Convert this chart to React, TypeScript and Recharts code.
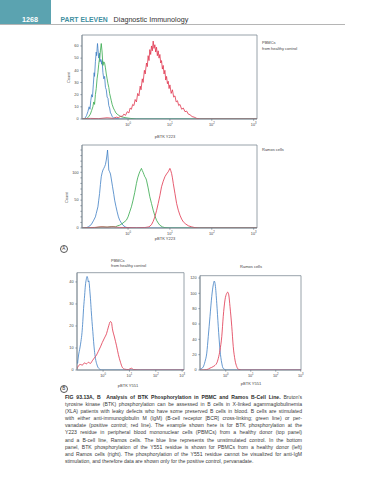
import React from 'react';
import { LineChart, Line, XAxis, YAxis, ReferenceArea } from 'recharts';

// x values are log10 of pBTK intensity, y values are cell counts
const X_TICKS = [0, 1, 2, 3];

const y223PbmcBlue: [number, number][] = [
  [-1.1, 0], [-1.06, 0], [-1.02, 1], [-0.99, 3], [-0.96, 6], [-0.93, 10], [-0.91, 8], [-0.89, 15],
  [-0.87, 20], [-0.85, 18], [-0.83, 28], [-0.81, 38], [-0.8, 35], [-0.78, 47], [-0.76, 55],
  [-0.75, 52], [-0.73, 62], [-0.72, 58], [-0.7, 50], [-0.68, 54], [-0.67, 47], [-0.65, 49],
  [-0.63, 45], [-0.62, 48], [-0.6, 38], [-0.58, 33], [-0.56, 35], [-0.54, 26], [-0.52, 24],
  [-0.5, 18], [-0.48, 17], [-0.46, 11], [-0.44, 9], [-0.42, 5], [-0.4, 4], [-0.38, 2],
  [-0.35, 1], [-0.3, 0.5], [-0.2, 0], [3.08, 0],
];
const y223PbmcGreen: [number, number][] = [
  [-1.1, 0], [-0.98, 0.5], [-0.94, 2], [-0.9, 4], [-0.87, 7], [-0.84, 10], [-0.82, 14], [-0.8, 12],
  [-0.78, 20], [-0.76, 25], [-0.74, 33], [-0.72, 38], [-0.7, 45], [-0.68, 50], [-0.66, 56],
  [-0.64, 62], [-0.62, 55], [-0.6, 44], [-0.58, 47], [-0.56, 46], [-0.54, 42], [-0.52, 37],
  [-0.5, 33], [-0.48, 29], [-0.46, 26], [-0.44, 21], [-0.42, 18], [-0.4, 15], [-0.38, 12],
  [-0.35, 9], [-0.32, 7], [-0.29, 5], [-0.26, 4], [-0.22, 3], [-0.18, 2], [-0.12, 1.5],
  [-0.05, 1], [0.05, 0.5], [0.2, 0], [3.08, 0],
];
const y223PbmcRed: [number, number][] = [
  [-1.1, 0], [-0.9, 0.5], [-0.7, 0.3], [-0.5, 1], [-0.35, 0.5], [-0.28, 1.5], [-0.22, 1],
  [-0.18, 2.5], [-0.14, 2], [-0.1, 4], [-0.06, 3], [-0.02, 6], [0.02, 5], [0.05, 9], [0.08, 8],
  [0.11, 12], [0.14, 11], [0.17, 16], [0.2, 14], [0.23, 21], [0.26, 19], [0.29, 27], [0.31, 24],
  [0.34, 33], [0.36, 30], [0.39, 40], [0.41, 37], [0.44, 46], [0.46, 43], [0.48, 52], [0.5, 48],
  [0.52, 57], [0.54, 53], [0.56, 60], [0.58, 56], [0.6, 64], [0.62, 58], [0.64, 61], [0.66, 55],
  [0.68, 59], [0.7, 52], [0.72, 56], [0.74, 50], [0.76, 53], [0.78, 46], [0.8, 48], [0.82, 41],
  [0.84, 44], [0.86, 37], [0.88, 40], [0.9, 32], [0.92, 35], [0.94, 29], [0.96, 31], [0.98, 25],
  [1.0, 28], [1.03, 21], [1.06, 24], [1.09, 18], [1.12, 19], [1.15, 14], [1.18, 15], [1.21, 11],
  [1.24, 12], [1.28, 8], [1.32, 9], [1.36, 6], [1.4, 6.5], [1.44, 4], [1.48, 3.5], [1.53, 2],
  [1.58, 1.5], [1.64, 0.5], [1.72, 0], [3.08, 0],
];

const y223RamosBlue: [number, number][] = [
  [-1.1, 0], [-1.0, 0.5], [-0.95, 2], [-0.88, 6], [-0.82, 14], [-0.78, 20], [-0.76, 26], [-0.72, 38],
  [-0.7, 50], [-0.68, 62], [-0.66, 78], [-0.64, 92], [-0.62, 99], [-0.6, 104], [-0.58, 107],
  [-0.56, 110], [-0.54, 114], [-0.52, 122], [-0.5, 133], [-0.49, 140], [-0.475, 124], [-0.46, 104],
  [-0.44, 101], [-0.42, 97], [-0.4, 88], [-0.37, 74], [-0.34, 60], [-0.32, 50], [-0.29, 39],
  [-0.26, 29], [-0.23, 20], [-0.2, 14], [-0.16, 9], [-0.12, 5], [-0.07, 2], [-0.02, 0.6],
  [0.1, 0], [3.08, 0],
];
const y223RamosGreen: [number, number][] = [
  [-1.1, 0], [-0.8, 0.5], [-0.7, 1.5], [-0.6, 2], [-0.5, 1.5], [-0.4, 2.5], [-0.3, 2], [-0.25, 4],
  [-0.2, 5], [-0.12, 9], [-0.04, 14], [0.0, 20], [0.04, 29], [0.08, 38], [0.12, 50], [0.16, 64],
  [0.2, 80], [0.23, 90], [0.26, 97], [0.28, 101], [0.3, 104], [0.32, 107], [0.34, 103], [0.36, 100],
  [0.38, 96], [0.4, 92], [0.42, 90], [0.44, 86], [0.48, 72], [0.52, 56], [0.56, 44], [0.6, 32],
  [0.64, 22], [0.68, 14], [0.72, 9], [0.76, 5], [0.82, 2], [0.88, 0.6], [1.0, 0], [3.08, 0],
];
const y223RamosRed: [number, number][] = [
  [-1.1, 0], [-0.8, 1], [-0.65, 2], [-0.5, 1.5], [-0.35, 2], [-0.2, 1], [0, 0.8], [0.2, 0.5],
  [0.4, 0.8], [0.5, 2], [0.56, 6], [0.6, 12], [0.64, 20], [0.68, 31], [0.72, 44], [0.76, 58],
  [0.8, 74], [0.84, 84], [0.88, 92], [0.92, 97], [0.96, 101], [0.98, 104], [1.0, 107], [1.02, 103],
  [1.04, 98], [1.06, 90], [1.08, 80], [1.12, 62], [1.16, 44], [1.2, 32], [1.24, 23], [1.28, 16],
  [1.32, 11], [1.38, 7], [1.44, 4], [1.52, 2], [1.6, 0.6], [1.7, 0], [3.08, 0],
];

const y551PbmcBlue: [number, number][] = [
  [-0.99, 4.5], [-0.97, 3], [-0.95, 5], [-0.93, 6.8], [-0.88, 10], [-0.84, 13], [-0.8, 17],
  [-0.77, 22], [-0.74, 28], [-0.7, 34], [-0.67, 38.6], [-0.64, 41], [-0.61, 42.5], [-0.58, 41.5],
  [-0.56, 40], [-0.54, 40.5], [-0.52, 38.6], [-0.5, 35.5], [-0.48, 32.6], [-0.45, 27], [-0.42, 22],
  [-0.39, 17.5], [-0.36, 12.9], [-0.33, 9], [-0.29, 5.3], [-0.23, 2.3], [-0.17, 0.8], [-0.04, 0],
  [3.07, 0],
];
const y551PbmcRed: [number, number][] = [
  [-0.99, 0.5], [-0.94, 1.8], [-0.86, 2.5], [-0.79, 2.2], [-0.71, 3.2], [-0.63, 2.8], [-0.56, 3.5],
  [-0.48, 3], [-0.41, 4.2], [-0.33, 5.5], [-0.25, 6.8], [-0.18, 8.5], [-0.1, 10.5], [-0.03, 12.5],
  [0.05, 14.5], [0.13, 16.5], [0.2, 19.5], [0.28, 22], [0.32, 21.5], [0.35, 19], [0.43, 15],
  [0.51, 11], [0.58, 7], [0.66, 3.5], [0.73, 1.2], [0.81, 0.4], [0.96, 0.2], [1.08, 0.8],
  [1.15, 0.2], [1.42, 0], [3.07, 0],
];

const y551RamosBlue: [number, number][] = [
  [-1.03, 1], [-0.96, 2], [-0.9, 4], [-0.83, 11], [-0.76, 22], [-0.7, 43.5], [-0.63, 70],
  [-0.56, 96], [-0.5, 111], [-0.46, 116], [-0.42, 111], [-0.36, 87], [-0.3, 57], [-0.23, 26],
  [-0.16, 9], [-0.1, 2], [0.04, 0], [3.01, 0],
];
const y551RamosRed: [number, number][] = [
  [-1.03, 0], [-0.76, 0.5], [-0.63, 2.5], [-0.5, 4.5], [-0.36, 9], [-0.3, 15], [-0.23, 26],
  [-0.16, 43.5], [-0.1, 70], [-0.03, 91.5], [0.04, 100], [0.08, 101.5], [0.12, 98], [0.17, 82.7],
  [0.24, 57], [0.3, 30.5], [0.37, 13], [0.44, 4.4], [0.5, 1], [0.64, 0], [3.01, 0],
];

const CAPTION_LINES = [
  "tyrosine kinase (BTK) phosphorylation can be assessed in B cells in X-linked agammaglobulinemia",
  '(XLA) patients with leaky defects who have some preserved B cells in blood. B cells are stimulated',
  'with either anti-immunoglobulin M (IgM) (B-cell receptor [BCR] cross-linking; green line) or per-',
  'vanadate (positive control; red line). The example shown here is for BTK phosphorylation at the',
  'Y223 residue in peripheral blood mononuclear cells (PBMCs) from a healthy donor (top panel)',
  'and a B-cell line, Ramos cells. The blue line represents the unstimulated control. In the bottom',
  'panel, BTK phosphorylation of the Y551 residue is shown for PBMCs from a healthy donor (left)',
  'and Ramos cells (right). The phosphorylation of the Y551 residue cannot be visualized for anti-IgM',
];
const CAPTION_LAST = 'stimulation, and therefore data are shown only for the positive control, pervanadate.';

const BLUE = '#3f7fc4';
const GREEN = '#33a84a';
const RED = '#e0334c';
const FRAME = '#7d8a96';
const TXT = '#444';
const FONT = '"Liberation Sans", Arial, sans-serif';

const pts = (arr: [number, number][]) => arr.map(([x, y]) => ({ x, y }));

function PowTick(props: any) {
  const { x, y, payload } = props;
  return (
    <text x={x} y={y + 3.4} textAnchor="middle" fontSize={3.8} fill={TXT} fontFamily={FONT}>
      10
      <tspan dy={-1.6} fontSize={2.7}>
        {payload.value}
      </tspan>
    </text>
  );
}

interface Series {
  data: [number, number][];
  color: string;
}

interface HistProps {
  left: number;
  top: number;
  width: number;
  height: number;
  margin: { top: number; right: number; left: number; bottom: number };
  yWidth: number;
  xHeight: number;
  xDomain: [number, number];
  yMax: number;
  yTicks: number[];
  yLabelEvery?: number;
  smooth?: boolean;
  series: Series[];
}

function Histogram(p: HistProps) {
  const YTick = (props: any) => {
    const { x, y, payload } = props;
    if (p.yLabelEvery && payload.value % p.yLabelEvery !== 0) return null;
    return (
      <text x={x} y={y + 1.3} textAnchor="end" fontSize={3.8} fill={TXT} fontFamily={FONT}>
        {payload.value}
      </text>
    );
  };
  return (
    <div style={{ position: 'absolute', left: p.left, top: p.top }}>
      <LineChart width={p.width} height={p.height} margin={p.margin}>
        <XAxis
          dataKey="x"
          type="number"
          domain={p.xDomain}
          allowDataOverflow
          ticks={X_TICKS}
          tick={<PowTick />}
          tickSize={1.5}
          height={p.xHeight}
          stroke={FRAME}
          axisLine={{ stroke: FRAME, strokeWidth: 0.8 }}
          interval={0}
        />
        <YAxis
          type="number"
          domain={[0, p.yMax]}
          allowDataOverflow
          ticks={p.yTicks}
          tick={<YTick />}
          tickSize={1.5}
          width={p.yWidth}
          stroke={FRAME}
          axisLine={{ stroke: FRAME, strokeWidth: 0.8 }}
          interval={0}
        />
        <ReferenceArea
          x1={p.xDomain[0]}
          x2={p.xDomain[1]}
          y1={0}
          y2={p.yMax}
          fill="none"
          stroke={FRAME}
          strokeWidth={0.8}
          ifOverflow="visible"
        />
        {p.series.map((s, i) => (
          <Line
            key={i}
            data={pts(s.data)}
            dataKey="y"
            type={p.smooth ? 'monotone' : 'linear'}
            stroke={s.color}
            strokeWidth={0.8}
            dot={false}
            activeDot={false}
            isAnimationActive={false}
          />
        ))}
      </LineChart>
    </div>
  );
}

const small: React.CSSProperties = {
  position: 'absolute',
  fontSize: 4,
  lineHeight: '5px',
  color: TXT,
  whiteSpace: 'nowrap',
};

function Circled({ left, top, letter }: { left: number; top: number; letter: string }) {
  return (
    <div
      style={{
        position: 'absolute',
        left,
        top,
        width: 6.5,
        height: 6.5,
        border: '0.6px solid #555',
        borderRadius: '50%',
        fontSize: 4.5,
        lineHeight: '6.5px',
        textAlign: 'center',
        color: '#333',
      }}
    >
      {letter}
    </div>
  );
}

export default function App() {
  return (
    <div
      style={{
        position: 'absolute',
        left: 0,
        top: 0,
        width: 374,
        height: 480,
        background: '#fff',
        overflow: 'hidden',
        fontFamily: FONT,
      }}
    >
      {/* page header */}
      <div style={{ position: 'absolute', left: 0, top: 0, width: 51, height: 24, background: '#5ba3b0' }} />
      <div style={{ position: 'absolute', left: 0, top: 24, width: 345, height: 0.7, background: '#b5b5b5' }} />
      <div style={{ position: 'absolute', left: 22, top: 16, fontSize: 7.2, lineHeight: '7px', fontWeight: 700, color: '#fff' }}>
        1268
      </div>
      <div style={{ position: 'absolute', left: 60.5, top: 16.2, fontSize: 6.8, lineHeight: '7px', whiteSpace: 'nowrap' }}>
        <span style={{ fontWeight: 700, color: '#3f8f9f' }}>PART ELEVEN</span>
        <span style={{ color: '#333', fontSize: 7.2, marginLeft: 6 }}>Diagnostic Immunology</span>
      </div>

      {/* A: top panel, PBMCs Y223 */}
      <Histogram
        left={50}
        top={30}
        width={217}
        height={106}
        margin={{ top: 5, right: 10, left: 0, bottom: 0 }}
        yWidth={32}
        xHeight={17}
        xDomain={[-1.1, 3.08]}
        yMax={69}
        yTicks={[0, 10, 20, 30, 40, 50, 60]}
        series={[
          { data: y223PbmcBlue, color: BLUE },
          { data: y223PbmcGreen, color: GREEN },
          { data: y223PbmcRed, color: RED },
        ]}
      />
      <div style={{ ...small, left: 262, top: 40 }}>PBMCs</div>
      <div style={{ ...small, left: 262, top: 46 }}>from healthy control</div>
      <div style={{ ...small, left: 66, top: 83, transform: 'rotate(-90deg)', transformOrigin: '0 0' }}>Count</div>
      <div style={{ ...small, left: 165, top: 134, transform: 'translateX(-50%)' }}>pBTK Y223</div>

      {/* A: bottom panel, Ramos Y223 */}
      <Histogram
        left={50}
        top={140}
        width={217}
        height={105}
        margin={{ top: 5, right: 10, left: 0, bottom: 0 }}
        yWidth={32}
        xHeight={17}
        xDomain={[-1.1, 3.08]}
        yMax={149}
        yTicks={[0, 10, 20, 30, 40, 50, 60, 70, 80, 90, 100, 110, 120, 130, 140]}
        yLabelEvery={50}
        series={[
          { data: y223RamosBlue, color: BLUE },
          { data: y223RamosGreen, color: GREEN },
          { data: y223RamosRed, color: RED },
        ]}
      />
      <div style={{ ...small, left: 262, top: 147 }}>Ramos cells</div>
      <div style={{ ...small, left: 64, top: 203, transform: 'rotate(-90deg)', transformOrigin: '0 0' }}>Count</div>
      <div style={{ ...small, left: 165, top: 236, transform: 'translateX(-50%)' }}>pBTK Y223</div>
      <Circled left={59.5} top={244.5} letter="A" />

      {/* B: PBMCs Y551 */}
      <div style={{ ...small, left: 111, top: 257.5 }}>PBMCs</div>
      <div style={{ ...small, left: 111, top: 263 }}>from healthy control</div>
      <Histogram
        left={50}
        top={268}
        width={139}
        height={117}
        margin={{ top: 4.7, right: 5, left: 0, bottom: 0 }}
        yWidth={27}
        xHeight={15}
        xDomain={[-0.99, 3.07]}
        yMax={44.2}
        yTicks={[0, 10, 20, 30, 40]}
        smooth
        series={[
          { data: y551PbmcBlue, color: BLUE },
          { data: y551PbmcRed, color: RED },
        ]}
      />
      <div style={{ ...small, left: 128, top: 383, transform: 'translateX(-50%)' }}>pBTK Y551</div>
      <Circled left={59.5} top={384.5} letter="B" />

      {/* B: Ramos Y551 */}
      <div style={{ ...small, left: 251, top: 264, transform: 'translateX(-50%)' }}>Ramos cells</div>
      <Histogram
        left={178}
        top={271}
        width={128}
        height={114}
        margin={{ top: 4.7, right: 5, left: 0, bottom: 0 }}
        yWidth={22}
        xHeight={15}
        xDomain={[-1.03, 3.01]}
        yMax={123}
        yTicks={[0, 20, 40, 60, 80, 100, 120]}
        smooth
        series={[
          { data: y551RamosBlue, color: BLUE },
          { data: y551RamosRed, color: RED },
        ]}
      />
      <div style={{ ...small, left: 251, top: 381, transform: 'translateX(-50%)' }}>pBTK Y551</div>

      {/* caption */}
      <div style={{ position: 'absolute', left: 65, top: 394, width: 237, fontSize: 5.1, lineHeight: '7.1px', color: '#3a3a3a' }}>
        <div style={{ textAlign: 'justify', textAlignLast: 'justify', whiteSpace: 'nowrap' as const }}>
          <b style={{ color: '#2a2a2a' }}>FIG 93.13A, B&nbsp; Analysis of BTK Phosphorylation in PBMC and Ramos B-Cell Line.</b> Bruton's
        </div>
        {CAPTION_LINES.map((l, i) => (
          <div key={i} style={{ textAlign: 'justify', textAlignLast: 'justify' }}>
            {l}
          </div>
        ))}
        <div>{CAPTION_LAST}</div>
      </div>
    </div>
  );
}
